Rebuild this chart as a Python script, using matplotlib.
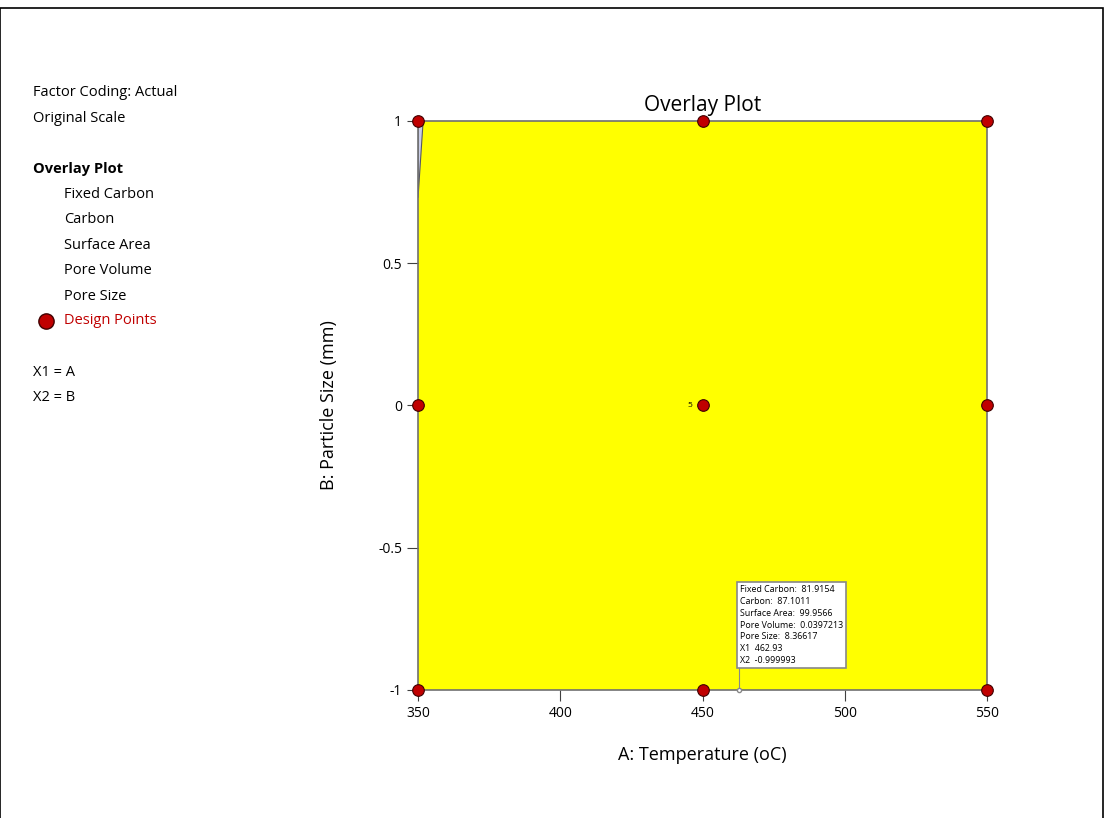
import matplotlib
matplotlib.use("Agg")
import matplotlib.pyplot as plt
from matplotlib.patches import Rectangle, Polygon

plt.rcParams['font.family'] = ['Open Sans', 'DejaVu Sans']

# design points
temp = [350, 350, 350, 450, 450, 450, 550, 550, 550]
size = [-1, 0, 1, -1, 0, 1, -1, 0, 1]
center_runs = 5

# region not satisfying criteria (small sliver at top-left)
sliver_x = [350, 351.8, 350]
sliver_y = [1, 1, 0.73]

# flag
flag_x = 462.93
flag_y = -0.999993
flag_lines = ["Fixed Carbon:  81.9154", "Carbon:  87.1011", "Surface Area:  99.9566",
              "Pore Volume:  0.0397213", "Pore Size:  8.36617", "X1  462.93", "X2  -0.999993"]

legend_top = ["Factor Coding: Actual", "Original Scale"]
responses = ["Fixed Carbon", "Carbon", "Surface Area", "Pore Volume", "Pore Size"]

fig = plt.figure(figsize=(11.05, 8.18), dpi=100)
fig.patches.append(Rectangle((0.0, -0.05), 0.998, 1.04, transform=fig.transFigure,
                             fill=False, edgecolor='black', linewidth=1.2))

ax = fig.add_axes([0.3783, 0.1565, 0.5149, 0.6956])
ax.set_xlim(350, 550)
ax.set_ylim(-1, 1)
ax.add_patch(Rectangle((350, -1), 200, 2, facecolor='#ffff00', edgecolor='none', zorder=0))
ax.add_patch(Polygon(list(zip(sliver_x, sliver_y)), closed=True, facecolor='#c9cde6',
                     edgecolor='#555566', linewidth=0.8, zorder=1))
for s in ax.spines.values():
    s.set_color('#707070')
    s.set_linewidth(1.2)
ax.set_xticks([350, 400, 450, 500, 550])
ax.set_yticks([-1, -0.5, 0, 0.5, 1])
ax.set_yticklabels(['-1', '-0.5', '0', '0.5', '1'])
ax.tick_params(direction='out', length=8, width=0.8, color='#404040', labelsize=10)
ax.set_xlabel("A: Temperature (oC)", fontsize=13, labelpad=18)
ax.set_ylabel("B: Particle Size (mm)", fontsize=13, labelpad=29)
ax.set_title("Overlay Plot", fontsize=15, pad=7)

ax.scatter(temp, size, s=70, color='#c00000', edgecolor='#400000', linewidth=0.8,
           zorder=5, clip_on=False)
ax.text(446.3, 0, str(center_runs), fontsize=6, ha='right', va='center', zorder=7)

# flag with pointer
ax.plot([flag_x, flag_x], [flag_y, -0.82], color='#888888', linewidth=0.8, zorder=4)
ax.plot(flag_x, flag_y, 'o', markersize=3, markerfacecolor='white', markeredgecolor='#888888', zorder=6,
        clip_on=False)
ax.text(flag_x + 0.3, -0.912, "\n".join(flag_lines), fontsize=6.4, ha='left', va='bottom',
        linespacing=1.4, zorder=6,
        bbox=dict(boxstyle='square,pad=0.35', facecolor='white', edgecolor='#888888', linewidth=1.2))

# left side legend text
fig.text(33/1105, 1 - 93/818, legend_top[0], fontsize=10.5, va='center')
fig.text(33/1105, 1 - 118/818, legend_top[1], fontsize=10.5, va='center')
fig.text(33/1105, 1 - 169/818, "Overlay Plot", fontsize=10.5, fontweight='bold', va='center')
for i, r in enumerate(responses):
    fig.text(64/1105, 1 - (194 + 25.5 * i)/818, r, fontsize=10.5, va='center')
fig.lines.append(plt.Line2D([46/1105], [1 - 321/818], marker='o', markersize=11,
                            markerfacecolor='#c00000', markeredgecolor='#400000',
                            transform=fig.transFigure))
fig.text(64/1105, 1 - 321/818, "Design Points", fontsize=10.5, color='#c00000', va='center')
fig.text(33/1105, 1 - 372/818, "X1 = A", fontsize=10.5, va='center')
fig.text(33/1105, 1 - 397/818, "X2 = B", fontsize=10.5, va='center')

fig.savefig("out.png", dpi=100)
